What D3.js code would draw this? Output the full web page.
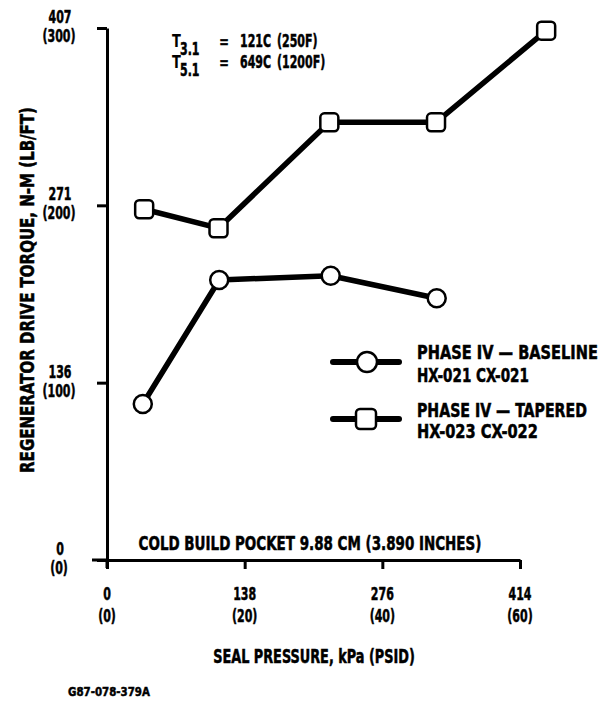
<!DOCTYPE html>
<html><head><meta charset="utf-8">
<script src="https://cdn.jsdelivr.net/npm/d3@7"></script>
<style>
body{margin:0;background:#fff;}
svg text{font-family:"DejaVu Sans Condensed","Liberation Sans Narrow","Arial Narrow",sans-serif;font-weight:bold;fill:#000;stroke:#000;stroke-width:0.5px;}
</style></head>
<body><svg id="c" width="613" height="702"></svg>
<script>
// ---- data ----
const seriesNames = ["PHASE IV \u2014 BASELINE", "PHASE IV \u2014 TAPERED"];
const seriesSub = ["HX-021 CX-021", "HX-023 CX-022"];
const baselinePsid = [5.2, 16.3, 32.5, 47.9];
const baselineTorque = [88.0, 157.9, 160.3, 147.6];
const taperedPsid = [5.4, 16.2, 32.3, 47.8, 63.8];
const taperedTorque = [197.8, 187.1, 246.8, 246.8, 298.5];
const xTicks = [0, 20, 40, 60];
const xTickKpa = ["0", "138", "276", "414"];
const xTickPsid = ["(0)", "(20)", "(40)", "(60)"];
const yTicks = [0, 100, 200, 300];
const yTickNm = ["0", "136", "271", "407"];
const yTickLb = ["(0)", "(100)", "(200)", "(300)"];

const svg = d3.select("#c");
const x = d3.scaleLinear().domain([0, 60]).range([107, 520]);
const y = d3.scaleLinear().domain([0, 300]).range([560, 28]);

function cond(px, py, str, opts = {}) {
  const size = opts.size || 18, sx = opts.sx || 0.68;
  return svg.append("text")
    .attr("transform", `translate(${px},${py}) scale(${sx},1)`)
    .attr("text-anchor", opts.anchor || "middle").attr("dominant-baseline", "central")
    .attr("font-size", size).text(str);
}
function fit(px, py, str, len, opts = {}) {
  const t = svg.append("text")
    .attr("text-anchor", opts.anchor || "middle").attr("dominant-baseline", "central")
    .attr("font-size", opts.size || 19).text(str);
  const w = t.node().getComputedTextLength();
  t.attr("transform", `translate(${px},${py})${opts.rot ? " rotate(" + opts.rot + ")" : ""} scale(${len / w},1)`);
  return t;
}

// axes
const yAxis = d3.axisLeft(y).tickValues(yTicks).tickSize(10).tickSizeOuter(0).tickFormat("");
const gy = svg.append("g").attr("transform", `translate(${x(0)},0)`).call(yAxis);
const xAxis = d3.axisBottom(x).tickValues(xTicks).tickSize(9).tickSizeOuter(0).tickFormat("");
const gx = svg.append("g").attr("transform", `translate(0,${y(0)})`).call(xAxis);
[gy, gx].forEach(g => {
  g.selectAll("path.domain").attr("stroke", "#000").attr("stroke-width", 3);
  g.selectAll(".tick line").attr("stroke", "#000").attr("stroke-width", 3);
});
svg.append("line").attr("x1", 92).attr("x2", x(0)).attr("y1", y(0)).attr("y2", y(0)).attr("stroke", "#000").attr("stroke-width", 3);
svg.append("line").attr("x1", x(0)).attr("x2", x(0)).attr("y1", y(0)).attr("y2", y(0) + 8).attr("stroke", "#000").attr("stroke-width", 3);

// tick labels
yTicks.forEach((t, i) => {
  cond(60, y(t) - 11, yTickNm[i]);
  cond(59, y(t) + 8, yTickLb[i]);
});
xTicks.forEach((t, i) => {
  cond(x(t), 594, xTickKpa[i]);
  cond(x(t), 616, xTickPsid[i]);
});

// titles
fit(27, 290, "REGENERATOR DRIVE TORQUE, N-M (LB/FT)", 366, {rot: -90});
fit(314, 656, "SEAL PRESSURE, kPa (PSID)", 202);
fit(310, 543, "COLD BUILD POCKET 9.88 CM (3.890 INCHES)", 343);
fit(68, 692, "G87-078-379A", 82, {anchor: "start", size: 13});

// temperature annotation
[["3.1", "121C", "(250F)", 41], ["5.1", "649C", "(1200F)", 62]].forEach(([sub, v1, v2, yy]) => {
  cond(172, yy, "T", {anchor: "start", size: 18, sx: 0.8}).attr("font-weight", "normal").style("stroke-width", 0);
  cond(180, yy + 8, sub, {anchor: "start", size: 17, sx: 0.72});
  cond(224, yy, "=", {size: 16, sx: 0.8});
  cond(240, yy, v1, {anchor: "start", size: 17, sx: 0.72});
  cond(277, yy, v2, {anchor: "start", size: 17, sx: 0.72});
});

// series
const line = d3.line().x(d => x(d[0])).y(d => y(d[1]));
const base = baselinePsid.map((v, i) => [v, baselineTorque[i]]);
const tap = taperedPsid.map((v, i) => [v, taperedTorque[i]]);
[base, tap].forEach(d => {
  svg.append("path").datum(d).attr("d", line).attr("fill", "none").attr("stroke", "#000").attr("stroke-width", 5.5).attr("stroke-linejoin", "round");
});
svg.selectAll("circle.pt").data(base).join("circle").attr("class", "pt")
  .attr("cx", d => x(d[0])).attr("cy", d => y(d[1])).attr("r", 9).attr("fill", "#fff").attr("stroke", "#000").attr("stroke-width", 2.5);
svg.selectAll("rect.pt").data(tap).join("rect").attr("class", "pt")
  .attr("x", d => x(d[0]) - 9).attr("y", d => y(d[1]) - 9).attr("width", 18).attr("height", 18).attr("rx", 4)
  .attr("fill", "#fff").attr("stroke", "#000").attr("stroke-width", 2.5);

// legend
[0, 1].forEach(i => {
  const ly = 362 + i * 57;
  svg.append("line").attr("x1", 333).attr("x2", 399).attr("y1", ly).attr("y2", ly).attr("stroke", "#000").attr("stroke-width", 6).attr("stroke-linecap", "round");
  if (i === 0) svg.append("circle").attr("cx", 367).attr("cy", ly).attr("r", 10).attr("fill", "#fff").attr("stroke", "#000").attr("stroke-width", 2.5);
  else svg.append("rect").attr("x", 356).attr("y", ly - 10).attr("width", 20).attr("height", 20).attr("rx", 4).attr("fill", "#fff").attr("stroke", "#000").attr("stroke-width", 2.5);
  fit(417, ly - 9, seriesNames[i], i === 0 ? 181 : 170, {anchor: "start"});
  fit(417, ly + 13, seriesSub[i], i === 0 ? 112 : 121, {anchor: "start"});
});
</script></body></html>
